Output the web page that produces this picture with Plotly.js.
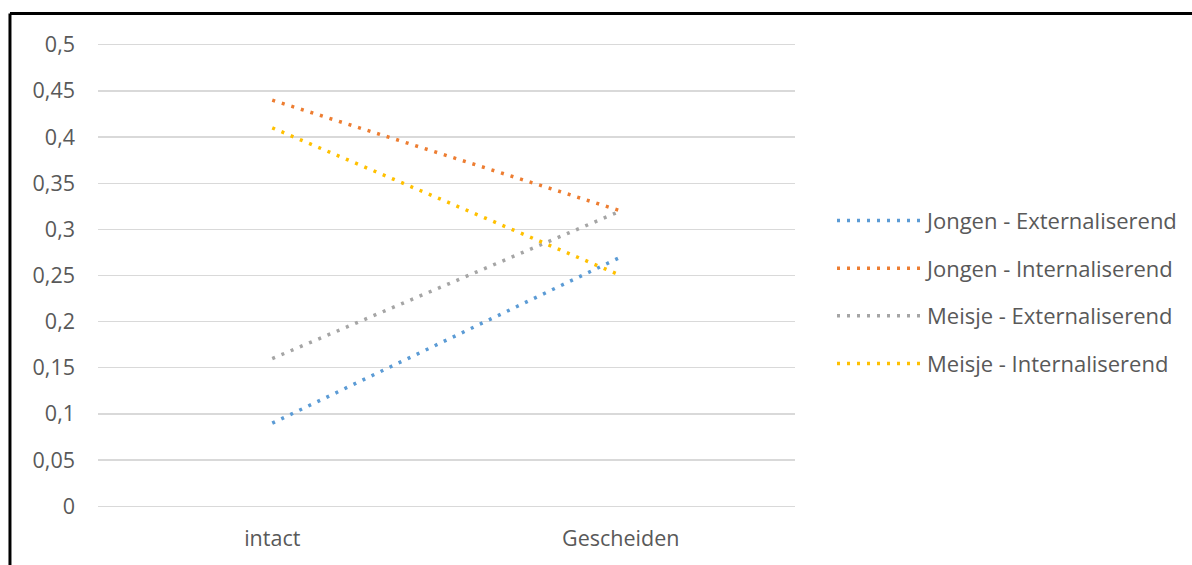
<!DOCTYPE html>
<html>
<head>
<meta charset="utf-8">
<script src="https://cdn.plot.ly/plotly-3.0.1.min.js"></script>
<style>html,body{margin:0;padding:0;background:#fff;}#chart{width:1192px;height:565px;}</style>
</head>
<body>
<div id="chart"></div>
<script>
const categories = ["intact", "Gescheiden"];
const seriesNames = ["Jongen - Externaliserend", "Jongen - Internaliserend", "Meisje - Externaliserend", "Meisje - Internaliserend"];
const jongenExt = [0.09, 0.27];
const jongenInt = [0.44, 0.32];
const meisjeExt = [0.16, 0.32];
const meisjeInt = [0.41, 0.25];
const seriesColors = ["#5B9BD5", "#ED7D31", "#A5A5A5", "#FFC000"];
const yTickVals = [0, 0.05, 0.1, 0.15, 0.2, 0.25, 0.3, 0.35, 0.4, 0.45, 0.5];
const yTickText = ["0", "0,05", "0,1", "0,15", "0,2", "0,25", "0,3", "0,35", "0,4", "0,45", "0,5"];

const allSeries = [jongenExt, jongenInt, meisjeExt, meisjeInt];
const traces = allSeries.map((vals, i) => ({
  type: "scatter",
  mode: "lines",
  x: categories,
  y: vals,
  name: seriesNames[i],
  legendgroup: "g" + i,
  line: {color: seriesColors[i], width: 3.5, dash: "3px,7px"},
  hoverinfo: "skip"
}));

const font = {family: "'Open Sans', 'Noto Sans', sans-serif", size: 21.5, color: "#595959"};
const layout = {
  width: 1192, height: 565,
  margin: {l: 98, r: 397, t: 42.2, b: 56.3, autoexpand: false},
  paper_bgcolor: "#fff", plot_bgcolor: "#fff",
  font: font,
  showlegend: true,
  legend: {
    x: 1.0531, xanchor: "left", y: 0.464, yanchor: "middle",
    font: Object.assign({}, font, {size: 22}),
    traceorder: "grouped", tracegroupgap: 16, itemwidth: 85,
    bgcolor: "rgba(0,0,0,0)"
  },
  xaxis: {
    type: "category", range: [-0.5, 1.5],
    showgrid: false, zeroline: false, showline: false,
    ticks: "", tickfont: font, ticklabelstandoff: 14
  },
  yaxis: {
    range: [-0.003, 0.503], tickvals: yTickVals, ticktext: yTickText,
    showgrid: true, gridcolor: "#D9D9D9", gridwidth: 1.3,
    zeroline: false, showline: false, ticks: "",
    tickfont: font, ticklabelstandoff: 22
  },
  shapes: [
    {type: "line", xref: "paper", yref: "paper", x0: -0.1263, x1: 1.6, y0: 1.061, y1: 1.061, line: {color: "#000", width: 3}},
    {type: "line", xref: "paper", yref: "paper", x0: -0.1263, x1: -0.1263, y0: 1.061, y1: -0.2, line: {color: "#000", width: 3}}
  ]
};
Plotly.newPlot("chart", traces, layout, {staticPlot: true});
</script>
</body>
</html>
